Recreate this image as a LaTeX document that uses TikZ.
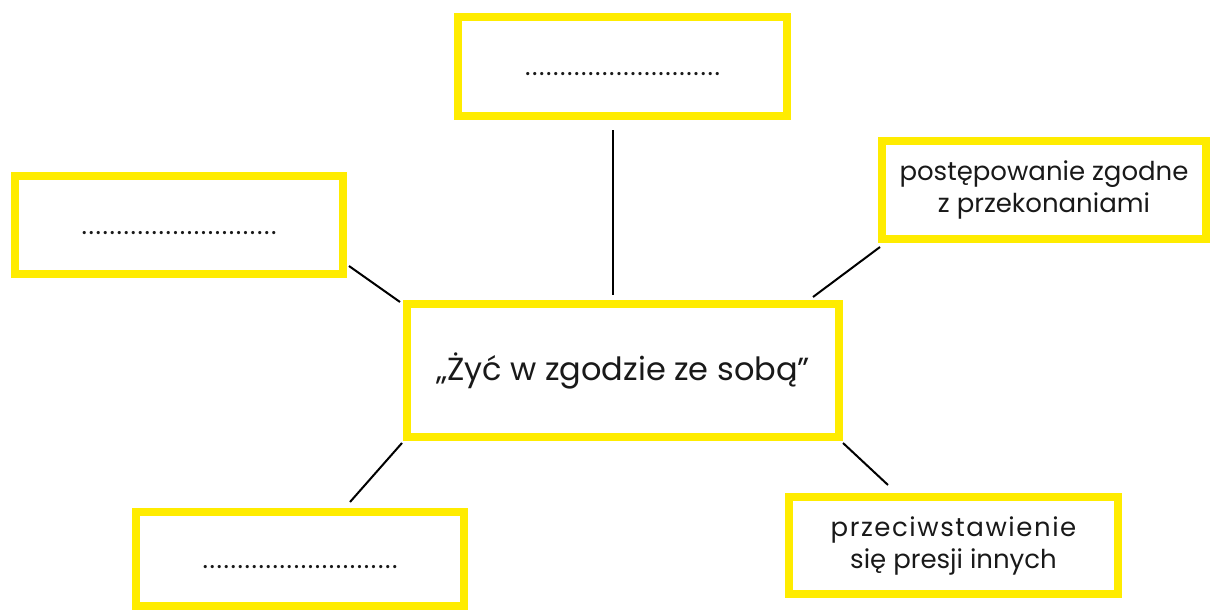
\documentclass[tikz,border=0pt]{standalone}
\usepackage{fontspec}
\setmainfont{Poppins}
\definecolor{ramka}{RGB}{255,236,0}
\newcommand{\kropki}{\raisebox{-9pt}[0pt][0pt]{\addfontfeature{LetterSpace=6}............................}}
\tikzset{
  pole/.style={draw=ramka, line width=8pt, outer sep=0pt, align=center,
    text=black!90, font=\fontsize{26}{32}\selectfont},
  linia/.style={line width=2pt, black}
}
\begin{document}
\begin{tikzpicture}[x=1pt, y=-1pt]
        \useasboundingbox (0,0) rectangle (1211,610);
        % srodek
        \node[pole, minimum width=432pt, minimum height=133pt, font=\fontsize{32}{38}\selectfont] (ctr) at (623,370.5) {„Żyć w zgodzie ze sobą”};
        % pola dookola
        \node[pole, minimum width=329pt, minimum height=99pt] (gora) at (622.5,66.5) {\kropki};
        \node[pole, minimum width=328pt, minimum height=98pt] (lewa) at (179,225) {\kropki};
        \node[pole, minimum width=324pt, minimum height=98pt] (prawa) at (1044,190) {postępowanie zgodne\\z przekonaniami};
        \node[pole, minimum width=328pt, minimum height=94pt] (dolL) at (300,559) {\kropki};
        \node[pole, minimum width=329pt, minimum height=97pt] (dolP) at (953.5,545.5) {{\addfontfeature{LetterSpace=6}przeciwstawienie}\\się presji innych};
        % linie
        \draw[linia] ([shift={(-9.5pt,-14pt)}]gora.south) -- ([shift={(-10pt,9pt)}]ctr.north);
        \draw[linia] ([shift={(6pt,8pt)}]lewa.south east) -- ([shift={(-7pt,2pt)}]ctr.north west);
        \draw[linia] ([shift={(-2pt,-8pt)}]prawa.south west) -- ([shift={(-26pt,7pt)}]ctr.north east);
        \draw[linia] ([shift={(-5pt,-6pt)}]ctr.south west) -- ([shift={(50pt,10pt)}]dolL.north);
        \draw[linia] ([shift={(4pt,-6pt)}]ctr.south east) -- ([shift={(-65.5pt,12pt)}]dolP.north);
      \end{tikzpicture}
\end{document}
